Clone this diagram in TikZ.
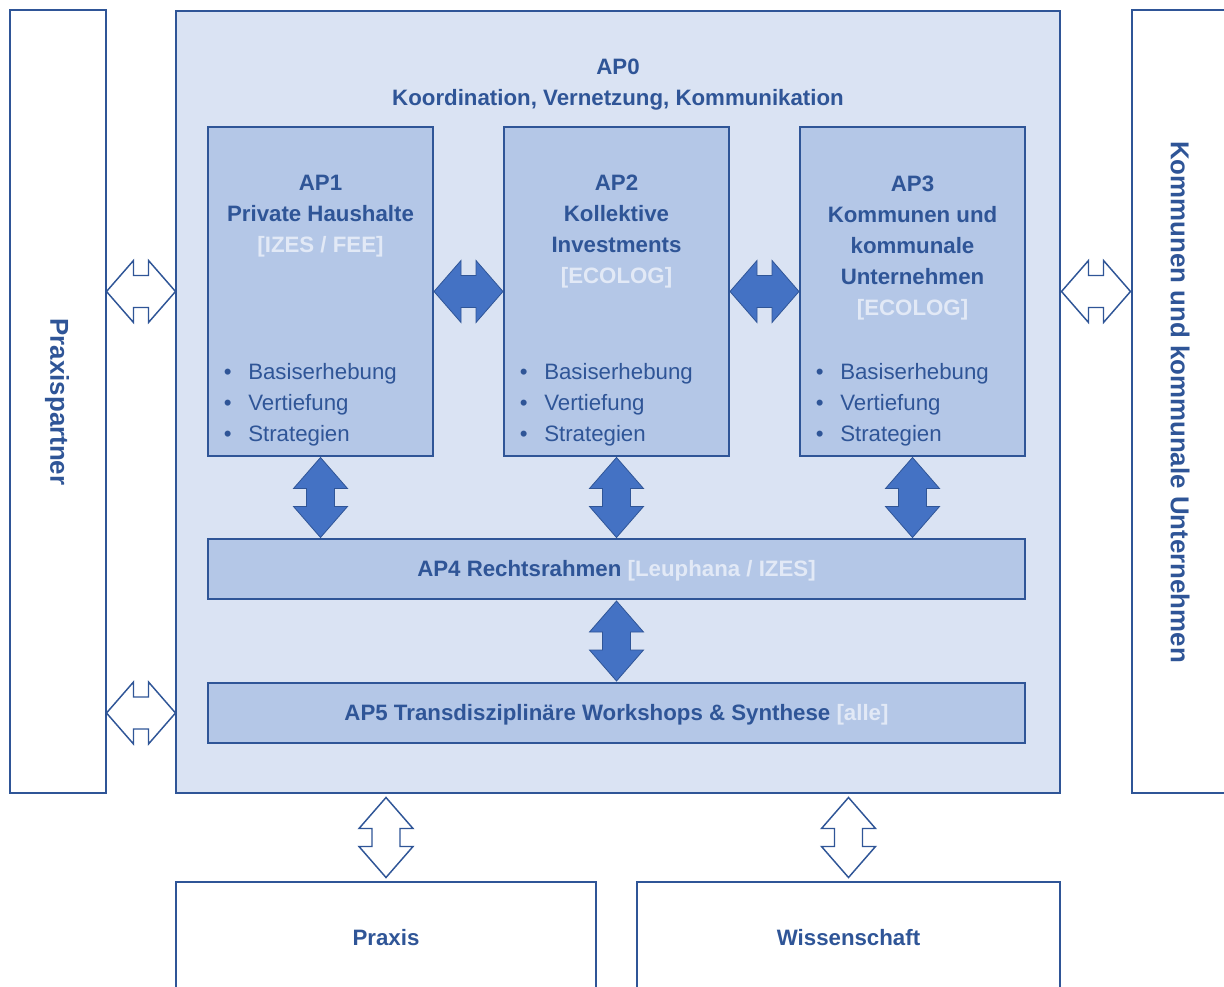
\documentclass[tikz,border=0pt]{standalone}
\usepackage{fontspec}
\setmainfont{Liberation Sans}
\usetikzlibrary{positioning,fit,calc}
\definecolor{frame}{RGB}{47,85,151}
\definecolor{pale}{RGB}{218,227,243}
\definecolor{mid}{RGB}{180,199,231}
\definecolor{fat}{RGB}{68,114,196}
\definecolor{tag}{RGB}{226,233,246}
\newcommand\tagtext[1]{{\color{tag}#1}}
\newcommand\bul{\llap{\textbullet\hspace{12.5pt}}}

\begin{document}
\begin{tikzpicture}[%
        x=0.75pt, y=-0.75pt,
        basic/.style={draw=frame, line width=1.2pt, inner sep=0pt},
        side/.style={basic, fill=white},
        ap/.style={basic, fill=mid},
        head/.style={text=frame, font=\fontsize{16.7}{23.25}\selectfont\bfseries, align=center, inner sep=0pt},
        sidehead/.style={head, rotate=-90, font=\fontsize{19.4}{23.25}\selectfont\bfseries},
        items/.style={text=frame, font=\fontsize{16.7}{23.25}\selectfont, align=left, inner sep=0pt, anchor=west},
        solid arrow/.style={fill=fat, draw=frame, line width=0.6pt},
        open arrow/.style={fill=white, draw=frame, line width=1.1pt},
        harrow/.pic={\path[pic actions] (-34.5,0) -- (-7.5,-31) -- (-7.5,-16) -- (7.5,-16) -- (7.5,-31) -- (34.5,0)
            -- (7.5,31) -- (7.5,16) -- (-7.5,16) -- (-7.5,31) -- cycle;},
        varrow/.pic={\path[pic actions] (0,-40) -- (27,-9) -- (14,-9) -- (14,9) -- (27,9) -- (0,40)
            -- (-27,9) -- (-14,9) -- (-14,-9) -- (-27,-9) -- cycle;}
        ]
        \useasboundingbox (0,0) rectangle (1224,987);
        % outer frame
        \node[side, fit={(10,10) (106,793)}] (pp) {};
        \node[side, fit={(1132,10) (1240,793)}] (kom) {};
        \node[basic, fill=pale, fit={(176,11) (1060,793)}] (ap0) {};
        \node[side, fit={(176,882) (596,1000)}] (praxis) {};
        \node[side, fit={(637,882) (1060,1000)}] (wiss) {};
        % work packages
        \node[ap, fit={(208,127) (433,456)}] (ap1) {};
        \node[ap, fit={(504,127) (729,456)}] (ap2) {};
        \node[ap, fit={(800,127) (1025,456)}] (ap3) {};
        \node[ap, fit={(208,539) (1025,599)}] (ap4) {};
        \node[ap, fit={(208,683) (1025,743)}] (ap5) {};
        % labels
        \node[head] (t0) at (618,84.5) {AP0\\Koordination, Vernetzung, Kommunikation};
        \node[head] (t1) at (320.5,216.5) {AP1\\Private Haushalte\\\tagtext{[IZES / FEE]}};
        \node[head] (t2) at (616.5,232) {AP2\\Kollektive\\Investments\\\tagtext{[ECOLOG]}};
        \node[head] (t3) at (912.5,248) {AP3\\Kommunen und\\kommunale\\Unternehmen\\\tagtext{[ECOLOG]}};
        \node[items] (b1) at (248,404.5) {\bul Basiserhebung\\\bul Vertiefung\\\bul Strategien};
        \node[items] (b2) at (544,404.5) {\bul Basiserhebung\\\bul Vertiefung\\\bul Strategien};
        \node[items] (b3) at (840,404.5) {\bul Basiserhebung\\\bul Vertiefung\\\bul Strategien};
        \node[head] (t4) at ($(ap4.center)+(0,2)$) {AP4 Rechtsrahmen \tagtext{[Leuphana / IZES]}};
        \node[head] (t5) at ($(ap5.center)+(0,2)$) {AP5 Transdisziplinäre Workshops \& Synthese \tagtext{[alle]}};
        \node[sidehead] (tpp) at (57,402) {Praxispartner};
        \node[sidehead] (tkom) at (1180,402) {Kommunen und kommunale Unternehmen};
        \node[head] (tpx) at (386,938) {Praxis};
        \node[head] (tws) at (848.5,938) {Wissenschaft};
        % arrows
        \pic[solid arrow] at ($(ap1.east)!.5!(ap2.west)$) {harrow};
        \pic[solid arrow] at ($(ap2.east)!.5!(ap3.west)$) {harrow};
        \pic[solid arrow] at ($(ap1.south)!.5!(ap1.south |- ap4.north)$) {varrow};
        \pic[solid arrow] at ($(ap2.south)!.5!(ap2.south |- ap4.north)$) {varrow};
        \pic[solid arrow] at ($(ap3.south)!.5!(ap3.south |- ap4.north)$) {varrow};
        \pic[solid arrow] at ($(ap4.south)!.5!(ap5.north)$) {varrow};
        \pic[open arrow] at ($(pp.east |- ap1.center)!.5!(ap0.west |- ap1.center)$) {harrow};
        \pic[open arrow] at ($(pp.east |- ap5.center)!.5!(ap0.west |- ap5.center)$) {harrow};
        \pic[open arrow] at ($(ap0.east |- ap3.center)!.5!(kom.west |- ap3.center)$) {harrow};
        \pic[open arrow] at ($(praxis.north)!.5!(praxis.north |- ap0.south)$) {varrow};
        \pic[open arrow] at ($(wiss.north)!.5!(wiss.north |- ap0.south)$) {varrow};
\end{tikzpicture}
\end{document}
